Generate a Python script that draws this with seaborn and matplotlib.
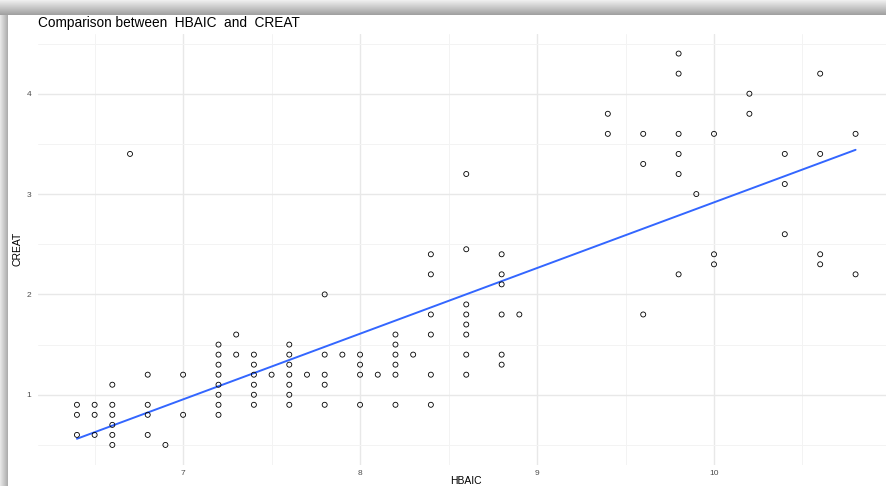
import numpy as np
import pandas as pd
import matplotlib
matplotlib.use("Agg")
import matplotlib.pyplot as plt
import seaborn as sns

# HBAIC / CREAT pairs, one group per HBAIC value
hbaic = ([6.4] * 3 + [6.5] * 3 + [6.6] * 6 + [6.7] + [6.8] * 4 + [6.9] + [7.0] * 2
         + [7.2] * 8 + [7.3] * 2 + [7.4] * 6 + [7.5] + [7.6] * 7 + [7.7] + [7.8] * 5
         + [7.9] + [8.0] * 4 + [8.1] + [8.2] * 6 + [8.3] + [8.4] * 6 + [8.6] * 8
         + [8.8] * 6 + [8.9] + [9.4] * 2 + [9.6] * 3 + [9.8] * 6 + [9.9] + [10.0] * 3
         + [10.2] * 2 + [10.4] * 3 + [10.6] * 4 + [10.8] * 2)
creat = [0.9, 0.8, 0.6,
         0.9, 0.8, 0.6,
         1.1, 0.9, 0.8, 0.7, 0.6, 0.5,
         3.4,
         1.2, 0.9, 0.8, 0.6,
         0.5,
         1.2, 0.8,
         1.5, 1.4, 1.3, 1.2, 1.1, 1.0, 0.9, 0.8,
         1.6, 1.4,
         1.4, 1.3, 1.2, 1.1, 1.0, 0.9,
         1.2,
         1.5, 1.4, 1.3, 1.2, 1.1, 1.0, 0.9,
         1.2,
         2.0, 1.4, 1.2, 1.1, 0.9,
         1.4,
         1.4, 1.3, 1.2, 0.9,
         1.2,
         1.6, 1.5, 1.4, 1.3, 1.2, 0.9,
         1.4,
         2.4, 2.2, 1.8, 1.6, 1.2, 0.9,
         3.2, 2.45, 1.9, 1.8, 1.7, 1.6, 1.4, 1.2,
         2.4, 2.2, 2.1, 1.8, 1.4, 1.3,
         1.8,
         3.8, 3.6,
         3.6, 3.3, 1.8,
         4.4, 4.2, 3.6, 3.4, 3.2, 2.2,
         3.0,
         3.6, 2.4, 2.3,
         4.0, 3.8,
         3.4, 3.1, 2.6,
         4.2, 3.4, 2.4, 2.3,
         3.6, 2.2]
x_ticks = [7, 8, 9, 10]
y_ticks = [1, 2, 3, 4]

df = pd.DataFrame({'HBAIC': hbaic, 'CREAT': creat})

sns.set_theme(style="white")
plt.rcParams['font.family'] = ['Liberation Sans', 'DejaVu Sans']

W, H = 887, 486
fig = plt.figure(figsize=(W / 100, H / 100), dpi=100)
fig.patch.set_facecolor('white')

# main panel (right side runs past the cropped edge)
left, right, top, bottom = 38, 894.5, 34, 464.5
ax = fig.add_axes([left / W, 1 - bottom / H, (right - left) / W, (bottom - top) / H])

sns.regplot(data=df, x='HBAIC', y='CREAT', ax=ax, scatter=False, ci=None,
            line_kws={'color': '#3366FF', 'lw': 1.4})
sns.scatterplot(data=df, x='HBAIC', y='CREAT', ax=ax, marker='o', s=13,
                facecolors='none', edgecolor='black', linewidth=0.6, zorder=3)

ax.set_xlim(6.18, 11.02)
ax.set_ylim(0.305, 4.595)
ax.set_xticks(x_ticks)
ax.set_yticks(y_ticks)
ax.set_xticks([6.5, 7.5, 8.5, 9.5, 10.5], minor=True)
ax.set_yticks([0.5, 1.5, 2.5, 3.5, 4.5], minor=True)
ax.grid(which='major', color='#E8E8E8', lw=1.0)
ax.grid(which='minor', color='#F3F3F3', lw=0.7)
ax.set_axisbelow(True)
for s in ax.spines.values():
    s.set_visible(False)
ax.tick_params(which='both', length=0, labelsize=6, labelcolor='#4D4D4D')
ax.tick_params(axis='y', pad=5)
ax.tick_params(axis='x', pad=4)

ax.set_xlabel('HBAIC', fontsize=7.5, color='black')
ax.set_ylabel('CREAT', fontsize=7.5, color='black')
ax.xaxis.set_label_coords((466 - left) / (right - left), -(476 - bottom) / (bottom - top))
ax.yaxis.set_label_coords(-(left - 23) / (right - left), 0.5)

fig.text(left / W, 1 - 27 / H, 'Comparison between  HBAIC  and  CREAT',
         fontsize=9.8, ha='left', va='baseline', color='black')

# drop-shadow frame along top and left edges
top_ax = fig.add_axes([0, 1 - 15 / H, 1, 15 / H])
top_ax.imshow(np.linspace(0.93, 0.63, 15).reshape(-1, 1), cmap='gray', vmin=0, vmax=1,
              aspect='auto', extent=[0, 1, 0, 1])
top_ax.axis('off')
left_ax = fig.add_axes([0, 0, 8 / W, 1 - 15 / H])
left_ax.imshow(np.linspace(0.9, 0.68, 8).reshape(1, -1), cmap='gray', vmin=0, vmax=1,
               aspect='auto', extent=[0, 1, 0, 1])
left_ax.axis('off')

plt.savefig('out.png', dpi=100)
